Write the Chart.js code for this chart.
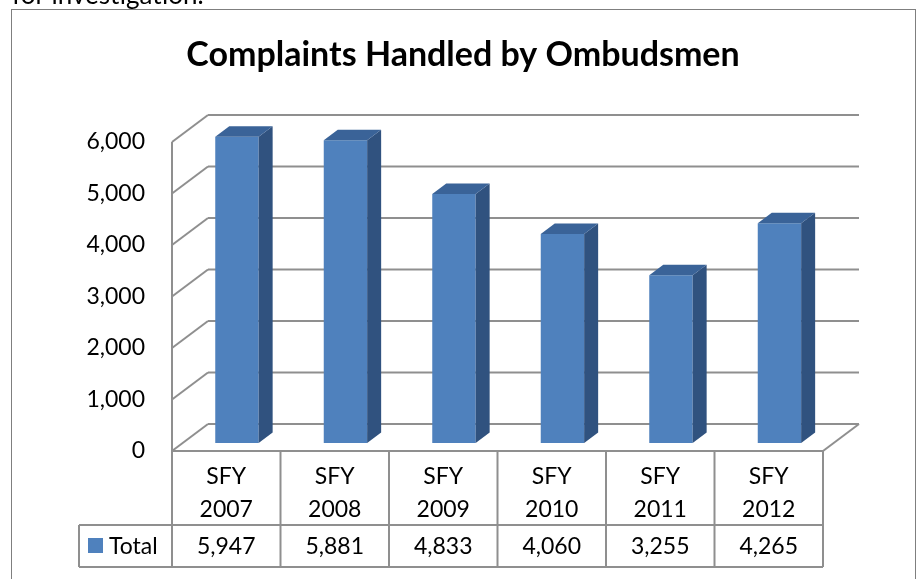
<!DOCTYPE html>
<html>
<head>
<meta charset="utf-8">
<title>Complaints Handled by Ombudsmen</title>
<script src="https://cdn.jsdelivr.net/npm/chart.js@4.4.1/dist/chart.umd.min.js"></script>
<style>
    html, body { margin: 0; padding: 0; background: #fff; }
    #wrap { position: relative; width: 919px; height: 579px; overflow: hidden; }
</style>
</head>
<body>
<div id="wrap"><canvas id="chart" width="919" height="579"></canvas></div>
<script>
// Chart data
const chartTitle = 'Complaints Handled by Ombudsmen';
const categories = [['SFY', '2007'], ['SFY', '2008'], ['SFY', '2009'], ['SFY', '2010'], ['SFY', '2011'], ['SFY', '2012']];
const seriesName = 'Total';
const totals = [5947, 5881, 4833, 4060, 3255, 4265];
const yTicks = [0, 1000, 2000, 3000, 4000, 5000, 6000];

const FONT = 'Lato, "Open Sans", sans-serif';
const BLUE = '#4F81BD';

// 3D look: wall depth, bar position inside the depth, bar depth
const wall = { dx: 36, dy: -27 };
const barShift = { dx: 10.7, dy: -8 };
const barDepth = { dx: 14, dy: -10.5 };

function fmt(v) {
    return v.toLocaleString('en-US');
}

function line(ctx, x1, y1, x2, y2) {
    ctx.beginPath();
    ctx.moveTo(x1, y1);
    ctx.lineTo(x2, y2);
    ctx.stroke();
}

const threeD = {
    id: 'threeD',
    beforeDraw(chart) {
        const ctx = chart.ctx;
        const area = chart.chartArea;
        const ys = chart.scales.y;

        ctx.save();
        // text of the page above the chart (cut off)
        ctx.fillStyle = '#000';
        ctx.font = '26px ' + FONT;
        ctx.textBaseline = 'alphabetic';
        ctx.fillText('for investigation.', 12, 4);

        // chart frame
        ctx.strokeStyle = '#7f7f7f';
        ctx.lineWidth = 1;
        ctx.strokeRect(11.5, 9.5, 904, 600);

        // title
        ctx.font = 'bold 34px ' + FONT;
        ctx.textAlign = 'center';
        ctx.textBaseline = 'middle';
        ctx.fillText(chartTitle, 463, 55);

        // back wall gridlines and side wall diagonals
        ctx.strokeStyle = '#8f8f8f';
        ctx.lineWidth = 2;
        yTicks.forEach(v => {
            const y = ys.getPixelForValue(v);
            line(ctx, area.left + wall.dx, y + wall.dy, area.right + wall.dx, y + wall.dy);
            line(ctx, area.left, y, area.left + wall.dx, y + wall.dy);
        });
        // side wall front edge
        line(ctx, area.left, area.top, area.left, area.bottom);
        // floor right edge
        line(ctx, area.right, area.bottom, area.right + wall.dx, area.bottom + wall.dy);
        ctx.restore();
    },
    beforeDatasetsDraw(chart) {
        chart.ctx.save();
        chart.ctx.translate(barShift.dx, barShift.dy);
    },
    afterDatasetsDraw(chart) {
        const ctx = chart.ctx;
        const meta = chart.getDatasetMeta(0);
        meta.data.forEach(bar => {
            const l = bar.x - bar.width / 2;
            const r = bar.x + bar.width / 2;
            const t = bar.y;
            const b = bar.base;
            // side face
            ctx.fillStyle = '#30527F';
            ctx.beginPath();
            ctx.moveTo(r, t);
            ctx.lineTo(r + barDepth.dx, t + barDepth.dy);
            ctx.lineTo(r + barDepth.dx, b + barDepth.dy);
            ctx.lineTo(r, b);
            ctx.closePath();
            ctx.fill();
            // top face
            ctx.fillStyle = '#3A6398';
            ctx.beginPath();
            ctx.moveTo(l, t);
            ctx.lineTo(l + barDepth.dx, t + barDepth.dy);
            ctx.lineTo(r + barDepth.dx, t + barDepth.dy);
            ctx.lineTo(r, t);
            ctx.closePath();
            ctx.fill();
        });
        ctx.restore();
    },
    afterDraw(chart) {
        // data table under the plot
        const ctx = chart.ctx;
        const area = chart.chartArea;
        const xs = chart.scales.x;
        const n = categories.length;
        const colW = (area.right - area.left) / n;
        const top = area.bottom;
        const mid = top + 74;
        const bottom = mid + 42;
        const legendLeft = 79;

        ctx.save();
        ctx.strokeStyle = '#8f8f8f';
        ctx.lineWidth = 2;
        line(ctx, area.left, top, area.right, top);
        line(ctx, legendLeft, mid, area.right, mid);
        line(ctx, legendLeft, bottom, area.right, bottom);
        line(ctx, legendLeft, mid, legendLeft, bottom);
        for (let i = 0; i <= n; i++) {
            const x = area.left + colW * i;
            line(ctx, x, top, x, bottom);
        }

        ctx.fillStyle = '#000';
        ctx.font = '23px ' + FONT;
        ctx.textAlign = 'center';
        ctx.textBaseline = 'middle';
        categories.forEach((cat, i) => {
            const cx = xs.getPixelForValue(i);
            ctx.fillText(cat[0], cx, top + 26);
            ctx.fillText(cat[1], cx, top + 59);
            ctx.fillText(fmt(totals[i]), cx, mid + 22);
        });

        // legend key
        ctx.fillStyle = BLUE;
        ctx.fillRect(88, mid + 13, 15, 15);
        ctx.fillStyle = '#000';
        ctx.textAlign = 'left';
        ctx.fillText(seriesName, 109, mid + 22);
        ctx.restore();
    }
};

new Chart(document.getElementById('chart'), {
    type: 'bar',
    data: {
        labels: categories,
        datasets: [{
            label: seriesName,
            data: totals,
            backgroundColor: BLUE,
            borderWidth: 0,
            categoryPercentage: 1,
            barPercentage: 0.4
        }]
    },
    options: {
        responsive: false,
        animation: false,
        layout: {
            padding: { top: 142, left: 0, right: 96, bottom: 128 }
        },
        scales: {
            x: {
                display: false
            },
            y: {
                min: 0,
                max: 6000,
                afterFit: scale => { scale.width = 172; },
                afterBuildTicks: scale => { scale.ticks = yTicks.map(v => ({ value: v })); },
                border: { display: false },
                grid: { display: false, drawTicks: false },
                ticks: {
                    padding: 27,
                    color: '#000',
                    font: { family: FONT, size: 23 },
                    callback: v => fmt(v)
                }
            }
        },
        plugins: {
            legend: { display: false },
            tooltip: { enabled: false },
            title: { display: false }
        }
    },
    plugins: [threeD]
});
</script>
</body>
</html>
